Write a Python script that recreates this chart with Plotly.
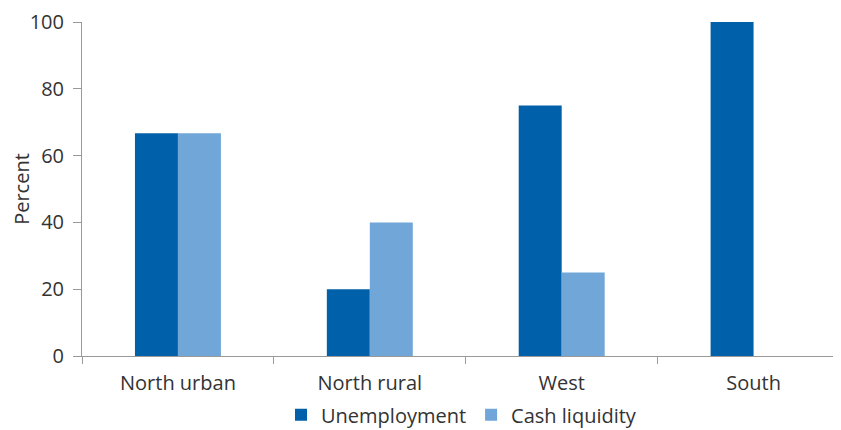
import plotly.graph_objects as go

categories = ["North urban", "North rural", "West", "South"]
unemployment = [66.7, 20, 75, 100]
cash_liquidity = [66.7, 40, 25, 0]
y_ticks = [0, 20, 40, 60, 80, 100]

font_family = "Open Sans, Noto Sans, sans-serif"
text_color = "#333333"
axis_color = "#9a9a9a"

fig = go.Figure()
fig.add_trace(go.Bar(x=categories, y=unemployment, name="Unemployment",
                     marker=dict(color="#0060A9", line=dict(width=0))))
fig.add_trace(go.Bar(x=categories, y=cash_liquidity, name="Cash liquidity",
                     marker=dict(color="#70A6D8", line=dict(width=0))))

fig.update_layout(
    width=841, height=430,
    margin=dict(l=74, r=11, t=14, b=81.5, autoexpand=False),
    plot_bgcolor="white", paper_bgcolor="white",
    barmode="group", bargap=0.552, bargroupgap=0,
    font=dict(family=font_family, size=20, color=text_color),
    showlegend=True,
    legend=dict(orientation="h", x=0.502, xanchor="center", y=-0.176, yanchor="middle",
                font=dict(size=20, color=text_color), itemwidth=30,
                traceorder="normal", tracegroupgap=0),
)
fig.update_xaxes(
    range=[-0.5, 3.44], showline=True, linecolor=axis_color, linewidth=1,
    ticks="outside", tickson="boundaries", ticklen=7, tickcolor=axis_color,
    showgrid=False, tickfont=dict(size=20, color=text_color),
    ticklabelstandoff=9, automargin=False,
)
fig.update_yaxes(
    range=[0, 100], tickvals=y_ticks, showline=True, linecolor=axis_color, linewidth=1,
    ticks="outside", ticklen=8, tickcolor=axis_color, showgrid=False, zeroline=False,
    title=dict(text="Percent", font=dict(size=20, color=text_color), standoff=8),
    tickfont=dict(size=20, color=text_color), ticklabelstandoff=5, automargin=False,
)

fig.write_html("out.html")
